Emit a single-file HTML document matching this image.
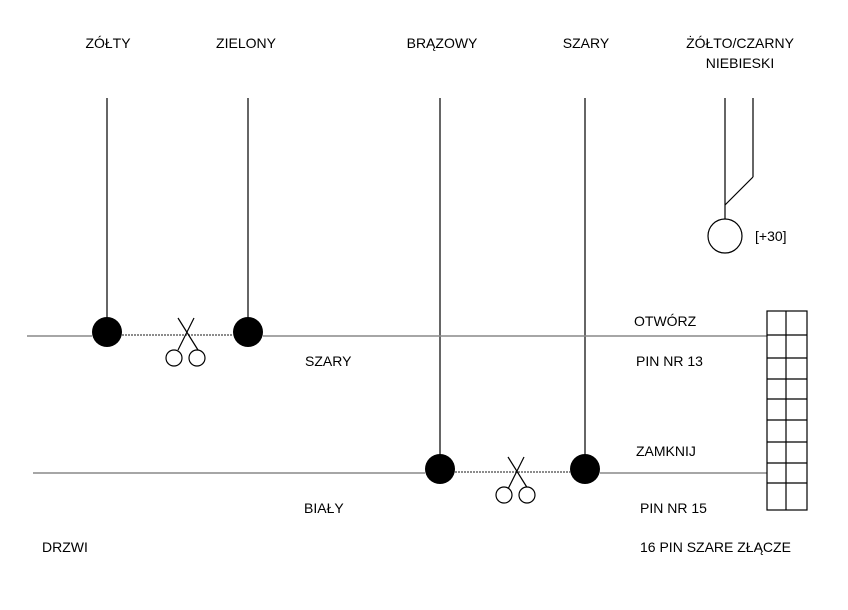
<!DOCTYPE html><html><head><style>body{margin:0;background:#fff}svg text{font-family:"Liberation Sans",sans-serif;font-size:14px;fill:#000}</style></head><body>
<svg width="848" height="605" xmlns="http://www.w3.org/2000/svg">
<g text-anchor="middle">
<text x="108" y="48">ZÓŁTY</text><text x="246" y="48">ZIELONY</text><text x="442" y="48">BRĄZOWY</text><text x="586" y="48">SZARY</text><text x="740" y="48">ŻÓŁTO/CZARNY</text><text x="740" y="68">NIEBIESKI</text>
</g>
<text x="755" y="241" fill="#000">[+30]</text>
<text x="305" y="366">SZARY</text><text x="634" y="326">OTWÓRZ</text><text x="636" y="366">PIN NR 13</text>
<text x="636" y="456">ZAMKNIJ</text><text x="304" y="513">BIAŁY</text><text x="640" y="513">PIN NR 15</text>
<text x="42" y="552">DRZWI</text><text x="640" y="552">16 PIN SZARE ZŁĄCZE</text>
<g stroke="#000" stroke-width="1.2" fill="none">
<line x1="107" y1="98" x2="107" y2="318"/><line x1="248" y1="98" x2="248" y2="318"/><line x1="440" y1="98" x2="440" y2="455"/><line x1="585" y1="98" x2="585" y2="455"/>
<line x1="725" y1="98" x2="725" y2="219"/><line x1="753" y1="98" x2="753" y2="177"/><line x1="753" y1="177" x2="725" y2="205"/>
<circle cx="725" cy="236" r="17"/>
</g>
<g stroke="#888" stroke-width="1.5">
<line x1="27" y1="336" x2="92" y2="336"/><line x1="263" y1="336" x2="767" y2="336"/>
<line x1="33" y1="473" x2="425" y2="473"/><line x1="600" y1="473" x2="767" y2="473"/>
</g>
<g stroke="#666" stroke-width="1.5" stroke-dasharray="2,1">
<line x1="122" y1="335" x2="233" y2="335"/><line x1="455" y1="472" x2="570" y2="472"/>
</g>
<g fill="#000"><circle cx="107" cy="332" r="15"/><circle cx="248" cy="332" r="15"/><circle cx="440" cy="469" r="15"/><circle cx="585" cy="469" r="15"/></g>
<g stroke="#000" stroke-width="1.2" fill="#fff">
<line x1="178" y1="318" x2="198" y2="350"/><line x1="194" y1="318" x2="178" y2="350"/>
<circle cx="174" cy="358" r="8"/><circle cx="197" cy="358" r="8"/>
<line x1="508" y1="457" x2="528" y2="489"/><line x1="524" y1="457" x2="508" y2="489"/>
<circle cx="504" cy="495" r="8"/><circle cx="527" cy="495" r="8"/>
</g>
<g stroke="#000" stroke-width="1.2" fill="none">
<rect x="767" y="311" width="40" height="199"/><line x1="786" y1="311" x2="786" y2="510"/>
<line x1="767" y1="335" x2="807" y2="335"/><line x1="767" y1="358" x2="807" y2="358"/><line x1="767" y1="379" x2="807" y2="379"/><line x1="767" y1="399" x2="807" y2="399"/><line x1="767" y1="420" x2="807" y2="420"/><line x1="767" y1="442" x2="807" y2="442"/><line x1="767" y1="463" x2="807" y2="463"/><line x1="767" y1="483" x2="807" y2="483"/>
</g>
</svg></body></html>
